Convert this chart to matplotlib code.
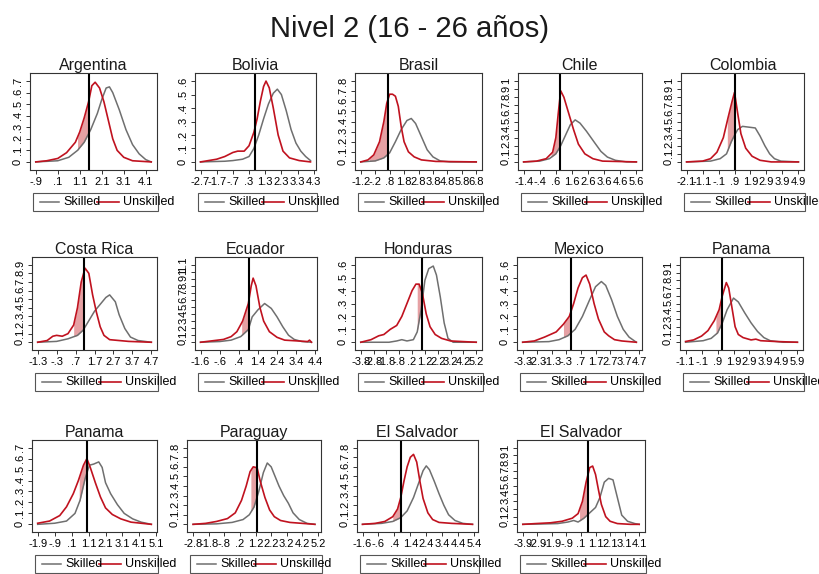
import numpy as np
import matplotlib
matplotlib.use("Agg")
import matplotlib.pyplot as plt
from matplotlib.lines import Line2D
from matplotlib.patches import Rectangle

plt.rcParams['font.family'] = ['Liberation Sans', 'DejaVu Sans']

TITLE = "Nivel 2 (16 - 26 años)"

countries = ["Argentina", "Bolivia", "Brasil", "Chile", "Colombia",
             "Costa Rica", "Ecuador", "Honduras", "Mexico", "Panama",
             "Panama", "Paraguay", "El Salvador", "El Salvador"]

# kernel densities (x, density) for skilled / unskilled workers
arg_skilled = [(-0.9, 0.0), (0.1, 0.01), (0.6, 0.04), (1.0, 0.1), (1.3, 0.17), (1.6, 0.28),
               (1.9, 0.42), (2.1, 0.54), (2.3, 0.64), (2.45, 0.65), (2.6, 0.6), (2.9, 0.45),
               (3.2, 0.28), (3.5, 0.15), (3.8, 0.07), (4.1, 0.02), (4.35, 0.0)]
arg_unskilled = [(-0.9, 0.0), (-0.4, 0.01), (0.1, 0.03), (0.5, 0.08), (0.9, 0.17), (1.1, 0.26),
                 (1.3, 0.38), (1.5, 0.52), (1.65, 0.66), (1.8, 0.69), (2.0, 0.64), (2.2, 0.52),
                 (2.4, 0.36), (2.6, 0.2), (2.8, 0.1), (3.1, 0.04), (3.5, 0.01), (4.35, 0.0)]

bol_skilled = [(-2.7, 0.0), (-1.2, 0.005), (-0.7, 0.01), (-0.1, 0.02), (0.3, 0.04), (0.6, 0.1),
               (0.9, 0.2), (1.2, 0.32), (1.5, 0.43), (1.8, 0.51), (2.05, 0.54), (2.3, 0.5),
               (2.6, 0.38), (2.9, 0.24), (3.2, 0.14), (3.5, 0.08), (3.8, 0.04), (4.1, 0.01)]
bol_unskilled = [(-2.7, 0.0), (-2.2, 0.01), (-1.7, 0.02), (-1.2, 0.04), (-0.7, 0.07), (-0.4, 0.08),
                 (0.0, 0.08), (0.3, 0.12), (0.6, 0.22), (0.8, 0.32), (1.0, 0.45), (1.2, 0.56),
                 (1.35, 0.6), (1.55, 0.55), (1.8, 0.4), (2.1, 0.2), (2.4, 0.08), (2.8, 0.03),
                 (3.4, 0.01), (4.1, 0.0)]

bra_skilled = [(-1.2, 0.0), (-0.2, 0.01), (0.4, 0.04), (0.8, 0.09), (1.2, 0.2), (1.6, 0.32),
               (2.0, 0.41), (2.3, 0.43), (2.6, 0.38), (3.0, 0.25), (3.4, 0.12), (3.8, 0.05),
               (4.3, 0.01), (5.0, 0.0), (6.8, 0.0)]
bra_unskilled = [(-1.2, 0.0), (-0.7, 0.02), (-0.3, 0.07), (0.1, 0.2), (0.4, 0.4), (0.6, 0.58),
                 (0.8, 0.67), (1.0, 0.67), (1.2, 0.65), (1.4, 0.55), (1.6, 0.35), (1.8, 0.2),
                 (2.1, 0.1), (2.5, 0.05), (3.0, 0.02), (4.0, 0.005), (6.8, 0.0)]

chi_skilled = [(-1.4, 0.0), (-0.4, 0.01), (0.2, 0.04), (0.6, 0.1), (0.9, 0.2), (1.2, 0.33),
               (1.5, 0.46), (1.8, 0.52), (2.1, 0.48), (2.5, 0.38), (3.0, 0.24), (3.4, 0.13),
               (3.8, 0.06), (4.3, 0.02), (5.0, 0.0), (5.6, 0.0)]
chi_unskilled = [(-1.4, 0.0), (-0.6, 0.01), (0.0, 0.04), (0.4, 0.12), (0.6, 0.3), (0.75, 0.6),
                 (0.9, 0.88), (1.1, 0.8), (1.4, 0.6), (1.7, 0.4), (2.0, 0.22), (2.4, 0.1),
                 (2.9, 0.04), (3.5, 0.01), (5.6, 0.0)]

col_skilled = [(-2.1, 0.0), (-0.6, 0.01), (0.0, 0.04), (0.4, 0.1), (0.7, 0.25), (0.9, 0.33),
               (1.1, 0.4), (1.4, 0.44), (1.8, 0.43), (2.2, 0.42), (2.5, 0.32), (2.8, 0.2),
               (3.1, 0.1), (3.4, 0.04), (3.8, 0.01), (4.9, 0.0)]
col_unskilled = [(-2.1, 0.0), (-1.1, 0.01), (-0.6, 0.04), (-0.2, 0.12), (0.2, 0.3), (0.5, 0.55),
                 (0.75, 0.75), (0.9, 0.86), (1.1, 0.6), (1.3, 0.35), (1.6, 0.17), (2.0, 0.07),
                 (2.5, 0.02), (3.2, 0.0), (4.9, 0.0)]

cri_skilled = [(-1.3, 0.0), (-0.3, 0.01), (0.3, 0.04), (0.8, 0.08), (1.1, 0.14), (1.4, 0.25),
               (1.7, 0.36), (2.0, 0.44), (2.3, 0.52), (2.5, 0.55), (2.8, 0.47), (3.0, 0.32),
               (3.3, 0.16), (3.6, 0.06), (4.0, 0.02), (4.7, 0.0)]
cri_unskilled = [(-1.3, 0.0), (-0.8, 0.02), (-0.5, 0.07), (-0.3, 0.08), (0.0, 0.07), (0.3, 0.1),
                 (0.6, 0.2), (0.8, 0.4), (1.0, 0.7), (1.2, 0.86), (1.4, 0.8), (1.6, 0.55),
                 (1.8, 0.35), (2.0, 0.18), (2.2, 0.08), (2.5, 0.03), (3.0, 0.02), (3.5, 0.01),
                 (4.7, 0.0)]

ecu_skilled = [(-1.6, 0.0), (-0.6, 0.01), (0.0, 0.03), (0.5, 0.08), (0.9, 0.18), (1.1, 0.36),
               (1.4, 0.46), (1.75, 0.55), (2.1, 0.48), (2.4, 0.36), (2.7, 0.22), (3.0, 0.1),
               (3.3, 0.04), (3.7, 0.01), (4.2, 0.0)]
ecu_unskilled = [(-1.6, 0.0), (-1.0, 0.02), (-0.4, 0.04), (0.0, 0.08), (0.3, 0.15), (0.6, 0.3),
                 (0.9, 0.55), (1.05, 0.8), (1.15, 0.91), (1.3, 0.8), (1.5, 0.5), (1.7, 0.3),
                 (2.0, 0.15), (2.4, 0.07), (2.8, 0.03), (3.4, 0.02), (4.0, 0.01), (4.1, 0.03),
                 (4.2, 0.0)]

hon_skilled = [(-3.8, 0.0), (-1.6, 0.0), (-1.0, 0.01), (-0.6, 0.02), (-0.2, 0.01), (0.3, 0.02),
               (0.6, 0.08), (0.9, 0.25), (1.2, 0.48), (1.5, 0.57), (1.85, 0.59), (2.1, 0.52),
               (2.4, 0.35), (2.7, 0.15), (3.0, 0.03), (3.4, 0.0), (5.2, 0.0)]
hon_unskilled = [(-3.8, 0.0), (-3.0, 0.02), (-2.4, 0.05), (-2.0, 0.06), (-1.5, 0.1), (-1.0, 0.13),
                 (-0.6, 0.2), (-0.2, 0.3), (0.2, 0.4), (0.5, 0.45), (0.75, 0.45), (1.0, 0.38),
                 (1.3, 0.22), (1.6, 0.12), (2.0, 0.06), (2.5, 0.03), (3.2, 0.01), (5.2, 0.0)]

mex_skilled = [(-3.3, 0.0), (-1.5, 0.005), (-0.8, 0.02), (-0.2, 0.05), (0.3, 0.1), (0.8, 0.2),
               (1.3, 0.33), (1.7, 0.43), (2.1, 0.47), (2.4, 0.44), (2.8, 0.33), (3.2, 0.2),
               (3.6, 0.1), (4.0, 0.04), (4.5, 0.0)]
mex_unskilled = [(-3.3, 0.0), (-2.5, 0.01), (-1.8, 0.04), (-1.0, 0.08), (-0.5, 0.14), (-0.1, 0.2),
                 (0.2, 0.3), (0.5, 0.42), (0.8, 0.5), (1.05, 0.52), (1.3, 0.45), (1.6, 0.3),
                 (1.9, 0.18), (2.3, 0.08), (2.6, 0.05), (3.0, 0.02), (3.5, 0.01), (4.5, 0.0)]

pan_skilled = [(-1.1, 0.0), (0.0, 0.02), (0.5, 0.05), (0.9, 0.12), (1.2, 0.25), (1.5, 0.42),
               (1.9, 0.57), (2.2, 0.52), (2.6, 0.38), (3.0, 0.25), (3.4, 0.14), (3.8, 0.06),
               (4.2, 0.02), (5.0, 0.0), (5.9, 0.0)]
pan_unskilled = [(-1.1, 0.01), (-0.6, 0.03), (-0.1, 0.08), (0.3, 0.15), (0.7, 0.28), (1.0, 0.42),
                 (1.2, 0.6), (1.45, 0.77), (1.6, 0.7), (1.8, 0.45), (2.0, 0.2), (2.2, 0.1),
                 (2.5, 0.06), (3.0, 0.03), (3.3, 0.04), (3.6, 0.02), (4.5, 0.01), (5.9, 0.0)]

pan2_skilled = [(-1.9, 0.0), (-0.9, 0.01), (-0.2, 0.03), (0.3, 0.1), (0.6, 0.22), (0.9, 0.42),
                (1.15, 0.54), (1.4, 0.55), (1.7, 0.57), (1.9, 0.52), (2.1, 0.38), (2.4, 0.28),
                (2.8, 0.18), (3.2, 0.1), (3.7, 0.05), (4.2, 0.02), (4.8, 0.0)]
pan2_unskilled = [(-1.9, 0.01), (-1.2, 0.03), (-0.6, 0.08), (-0.2, 0.16), (0.2, 0.28), (0.5, 0.4),
                  (0.8, 0.54), (1.0, 0.6), (1.2, 0.52), (1.5, 0.38), (1.8, 0.25), (2.1, 0.15),
                  (2.5, 0.09), (3.0, 0.05), (3.6, 0.02), (4.2, 0.01), (4.8, 0.0)]

par_skilled = [(-2.8, 0.0), (-1.3, 0.005), (-0.3, 0.02), (0.4, 0.05), (0.8, 0.1), (1.1, 0.18),
               (1.4, 0.34), (1.7, 0.54), (1.95, 0.64), (2.2, 0.6), (2.4, 0.52), (2.7, 0.4),
               (3.0, 0.3), (3.3, 0.22), (3.6, 0.12), (4.0, 0.05), (4.5, 0.01), (5.0, 0.0)]
par_unskilled = [(-2.8, 0.0), (-2.0, 0.01), (-1.3, 0.03), (-0.6, 0.06), (-0.1, 0.12), (0.3, 0.25),
                 (0.6, 0.4), (0.85, 0.55), (1.05, 0.6), (1.3, 0.59), (1.5, 0.45), (1.8, 0.28),
                 (2.1, 0.15), (2.4, 0.08), (2.8, 0.04), (3.4, 0.02), (4.2, 0.01), (5.0, 0.0)]

slv_skilled = [(-1.6, 0.0), (-0.4, 0.01), (0.3, 0.03), (0.8, 0.07), (1.2, 0.14), (1.6, 0.28),
               (1.9, 0.42), (2.2, 0.56), (2.4, 0.61), (2.6, 0.57), (2.9, 0.45), (3.2, 0.32),
               (3.5, 0.2), (3.8, 0.1), (4.2, 0.04), (4.7, 0.01), (5.3, 0.0)]
slv_unskilled = [(-1.6, 0.0), (-0.8, 0.01), (-0.2, 0.03), (0.3, 0.08), (0.6, 0.16), (0.8, 0.28),
                 (1.0, 0.45), (1.2, 0.6), (1.4, 0.7), (1.6, 0.73), (1.8, 0.65), (2.0, 0.45),
                 (2.2, 0.27), (2.5, 0.12), (2.8, 0.05), (3.2, 0.02), (4.0, 0.01), (5.3, 0.0)]

slv2_skilled = [(-3.9, 0.0), (-2.5, 0.005), (-1.5, 0.01), (-0.8, 0.03), (-0.4, 0.05), (-0.1, 0.03),
                (0.3, 0.08), (0.7, 0.15), (1.1, 0.22), (1.4, 0.35), (1.7, 0.55), (2.0, 0.6),
                (2.3, 0.58), (2.6, 0.35), (2.9, 0.12), (3.3, 0.04), (3.8, 0.01), (4.1, 0.0)]
slv2_unskilled = [(-3.9, 0.0), (-3.0, 0.01), (-2.0, 0.02), (-1.2, 0.04), (-0.5, 0.08), (-0.1, 0.14),
                  (0.2, 0.3), (0.45, 0.55), (0.7, 0.74), (0.9, 0.76), (1.1, 0.65), (1.3, 0.45),
                  (1.5, 0.26), (1.8, 0.1), (2.1, 0.04), (2.6, 0.01), (3.5, 0.0), (4.1, 0.0)]

skilled = [arg_skilled, bol_skilled, bra_skilled, chi_skilled, col_skilled,
           cri_skilled, ecu_skilled, hon_skilled, mex_skilled, pan_skilled,
           pan2_skilled, par_skilled, slv_skilled, slv2_skilled]
unskilled = [arg_unskilled, bol_unskilled, bra_unskilled, chi_unskilled, col_unskilled,
             cri_unskilled, ecu_unskilled, hon_unskilled, mex_unskilled, pan_unskilled,
             pan2_unskilled, par_unskilled, slv_unskilled, slv2_unskilled]

# cut-off (vertical line) and start of the shaded band below it
cutoff = [1.5, 0.65, 0.72, 0.85, 0.9, 1.15, 0.96, 0.98, 0.05, 1.2, 1.0, 1.3, 0.8, 0.6]
shade_from = [1.0, None, -0.6, 0.3, 0.45, 0.6, 0.55, 0.6, -0.5, 0.8, 0.55, 0.9, 0.3, 0.0]

xtick_first = [-0.9, -2.7, -1.2, -1.4, -2.1, -1.3, -1.6, -3.8, -3.3, -1.1, -1.9, -2.8, -1.6, -3.9]
xtick_last = [4.1, 4.3, 6.8, 5.6, 4.9, 4.7, 4.4, 5.2, 4.7, 5.9, 5.1, 5.2, 5.4, 4.1]
ytick_top = [0.7, 0.6, 0.8, 1.0, 1.0, 0.9, 1.1, 0.6, 0.6, 1.0, 0.7, 0.8, 0.8, 1.0]

# plot frames in pixels: left, top, right, bottom
frames = [(30, 73, 157, 170), (195, 73, 316, 170), (355, 73, 482, 170),
          (518, 73, 642, 170), (681, 73, 804, 170),
          (32, 257, 157, 350), (195, 257, 317, 350), (355, 257, 482, 350),
          (517, 257, 642, 350), (680, 257, 803, 350),
          (32, 440, 157, 532), (187, 440, 321, 532), (357, 440, 478, 532),
          (517, 440, 645, 532)]

W, H = 819, 574
GRAY = '#6f6f6f'
RED = '#c0121f'
SHADE = '#e08a8d'


def stata_label(v):
    s = ('%.1f' % v).rstrip('0').rstrip('.')
    if s in ('-0', ''):
        s = '0'
    if s.startswith('0.'):
        s = s[1:]
    elif s.startswith('-0.'):
        s = '-' + s[2:]
    return s


def to_fig(px, py):
    return px / W, 1 - py / H


fig = plt.figure(figsize=(W / 100, H / 100), dpi=100)
fig.text(0.5, 1 - 29 / H, TITLE, ha='center', va='center', fontsize=21, color='#1a1a1a')

for i, name in enumerate(countries):
    l, t, r, b = frames[i]
    ax = fig.add_axes([l / W, 1 - b / H, (r - l) / W, (b - t) / H])

    sx, sy = zip(*skilled[i])
    ux, uy = zip(*unskilled[i])

    if shade_from[i] is not None:
        xs = np.linspace(shade_from[i], cutoff[i], 60)
        ax.fill_between(xs, np.interp(xs, ux, uy), np.interp(xs, sx, sy),
                        color=SHADE, alpha=0.8, lw=0)
    ax.plot(sx, sy, color=GRAY, lw=1.1)
    ax.plot(ux, uy, color=RED, lw=1.2)
    ax.axvline(cutoff[i], color='black', lw=1.5)

    lo = min(sx[0], ux[0])
    hi = max(sx[-1], ux[-1])
    pad = 0.05 * (hi - lo)
    ax.set_xlim(lo - pad, hi + pad)
    top = ytick_top[i]
    ax.set_ylim(-0.1 * top, 1.1 * top)

    xt = np.round(np.arange(xtick_first[i], xtick_last[i] + 0.01, 1.0), 1)
    yt = np.round(np.arange(0, top + 0.01, 0.1), 1)
    ax.set_xticks(xt)
    ax.set_xticklabels([stata_label(v) for v in xt])
    ax.set_yticks(yt)
    ax.set_yticklabels([stata_label(v) for v in yt], rotation=90, va='center')
    ax.tick_params(axis='both', direction='out', length=3, width=0.7,
                   labelsize=8, pad=2, color='#333333')
    for sp in ax.spines.values():
        sp.set_color('#333333')
        sp.set_linewidth(0.8)
    ax.set_title(name, fontsize=11.5, pad=2, color='#1a1a1a')

    # legend box below the panel
    bl, bt, br, bb = l + 3, b + 23, r + 1, b + 41
    x0, y0 = to_fig(bl, bb)
    x1, y1 = to_fig(br, bt)
    fig.add_artist(Rectangle((x0, y0), x1 - x0, y1 - y0, transform=fig.transFigure,
                             fill=False, edgecolor='#555555', lw=0.8))
    ym = 1 - (bt + bb) / 2 / H
    fig.add_artist(Line2D([(bl + 7) / W, (bl + 26) / W], [ym, ym],
                          transform=fig.transFigure, color=GRAY, lw=1.1))
    fig.text((bl + 30) / W, ym, "Skilled", fontsize=9, va='center', ha='left')
    fig.add_artist(Line2D([(bl + 64) / W, (bl + 86) / W], [ym, ym],
                          transform=fig.transFigure, color=RED, lw=1.2))
    fig.text((bl + 90) / W, ym, "Unskilled", fontsize=9, va='center', ha='left')

fig.savefig("out.png", dpi=100)
